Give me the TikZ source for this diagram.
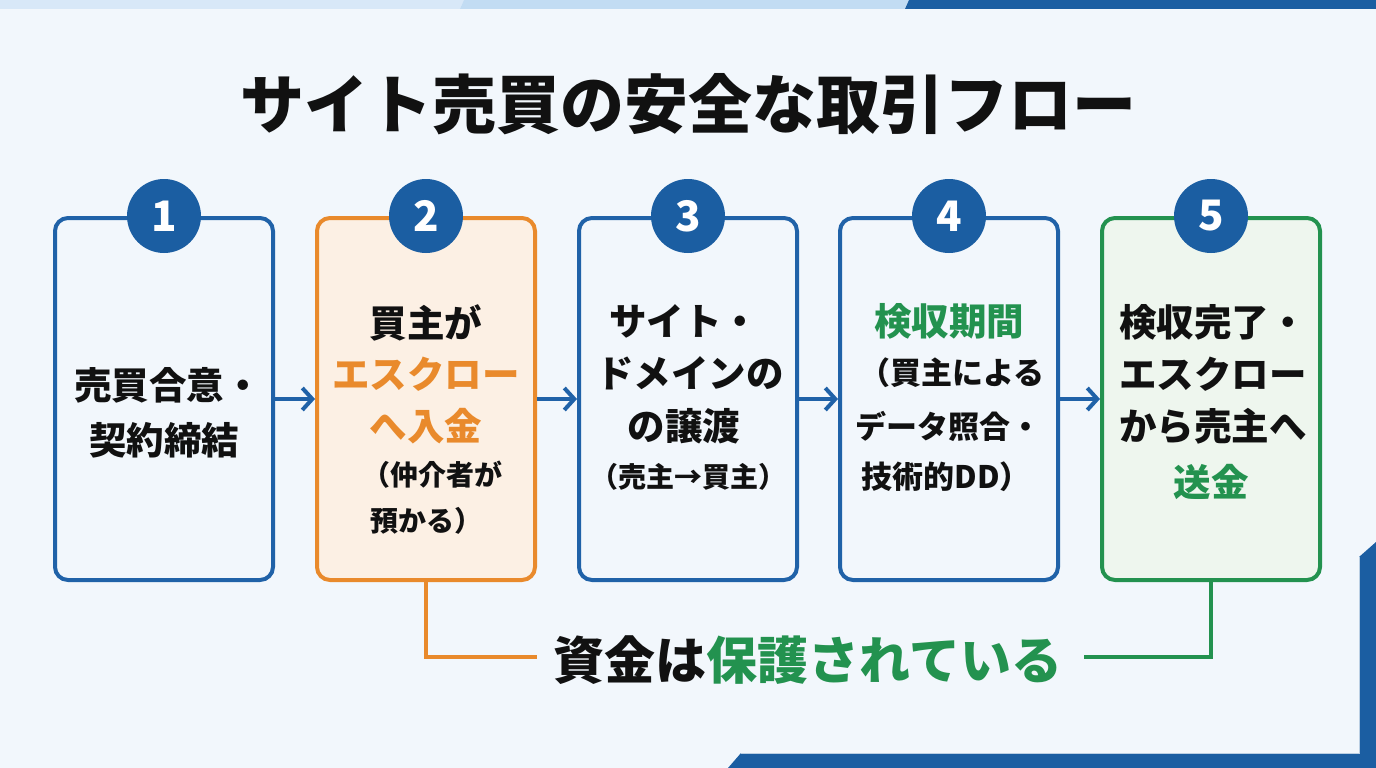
\documentclass[tikz,border=0pt]{standalone}
\usepackage{fontspec}
\setmainfont{Noto Sans CJK JP}
\newfontfamily\heavyfont{Noto Sans CJK JP Black}
\usetikzlibrary{arrows.meta}
\definecolor{bgcol}{HTML}{F2F7FC}
\definecolor{bandA}{HTML}{D8E8F8}
\definecolor{bandB}{HTML}{C2DCF3}
\definecolor{navy}{HTML}{1B5EA2}
\definecolor{boxblue}{HTML}{2062A8}
\definecolor{orng}{HTML}{E98A2C}
\definecolor{orngfill}{HTML}{FCF0E4}
\definecolor{grn}{HTML}{23924F}
\definecolor{grnfill}{HTML}{EEF6EE}
\definecolor{txt}{HTML}{111111}
\tikzset{
  stepbox/.style={draw=boxblue, line width=4pt, rounded corners=13pt, fill=bgcol,
    minimum width=218pt, minimum height=362pt, inner sep=0pt},
  numdisc/.style={circle, fill=navy, minimum size=74pt, inner sep=0pt, text=white,
    font=\heavyfont\fontsize{42}{42}\selectfont},
  bigline/.style={text=txt, inner sep=0pt, font=\bfseries\fontsize{37.5}{37.5}\selectfont},
  smallline/.style={text=txt, inner sep=0pt, font=\bfseries\fontsize{28}{28}\selectfont},
  midline/.style={text=txt, inner sep=0pt, font=\bfseries\fontsize{31}{31}\selectfont},
  flowarrow/.style={draw=boxblue, line width=4pt, -{Straight Barb[length=10pt,width=22pt,line width=4pt]}},
}
\begin{document}
\begin{tikzpicture}[x=1pt,y=-1pt]
\useasboundingbox (0,0) rectangle (1376,768);
\fill[bgcol] (0,0) rectangle (1376,768);
% top bands
\fill[bandA] (0,0) -- (464,0) -- (460,9) -- (0,9) -- cycle;
\fill[bandB] (464,0) -- (909,0) -- (905,9) -- (460,9) -- cycle;
\fill[navy] (909,0) -- (1376,0) -- (1376,9) -- (905,9) -- cycle;
% bottom right corner
\fill[navy] (1359,557) -- (1376,542) -- (1376,768) -- (728,768) -- (741,753) -- (1359,753) -- cycle;
\draw[white, line width=0.8pt, opacity=0.7] (1359,557) -- (1359,753) -- (741,753);

% title
\node[text=txt, inner sep=0pt, font=\heavyfont\fontsize{64}{64}\selectfont] (title) at (688,104) {サイト売買の安全な取引フロー};

% boxes
\node[stepbox] (b1) at (164,399) {};
\node[stepbox, draw=orng, fill=orngfill] (b2) at (426,399) {};
\node[stepbox] (b3) at (688,399) {};
\node[stepbox] (b4) at (949,399) {};
\node[stepbox, draw=grn, fill=grnfill] (b5) at (1211,399) {};

% number discs
\node[numdisc] (n1) at (b1.north) {1};
\node[numdisc] (n2) at (b2.north) {2};
\node[numdisc] (n3) at (b3.north) {3};
\node[numdisc] (n4) at (b4.north) {4};
\node[numdisc] (n5) at (b5.north) {5};

% arrows
\draw[flowarrow] (b1.east) -- (b2.west);
\draw[flowarrow] (b2.east) -- (b3.west);
\draw[flowarrow] (b3.east) -- (b4.west);
\draw[flowarrow] (b4.east) -- (b5.west);

% box 1 text
\node[bigline] (t11) at (168,385) {売買合意・};
\node[bigline] (t12) at (164,440) {契約締結};
% box 2 text
\node[bigline] (t21) at (426,323) {買主が};
\node[bigline, text=orng] (t22) at (426,374) {エスクロー};
\node[bigline, text=orng] (t23) at (426,426) {へ入金};
\node[smallline] (t24) at (432,475) {（仲介者が};
\node[smallline] (t25) at (426,521) {預かる）};
% box 3 text
\node[bigline] (t31) at (684,321) {サイト・};
\node[bigline] (t32) at (690,373) {ドメインの};
\node[bigline] (t33) at (684,426) {の譲渡};
\node[smallline] (t34) at (688,477) {（売主→買主）};
% box 4 text
\node[bigline, text=grn] (t41) at (949,321) {検収期間};
\node[midline] (t42) at (952,373) {（買主による};
\node[midline] (t43) at (948,426) {データ照合・};
\node[midline] (t44) at (946,477) {技術的DD）};
% box 5 text
\node[bigline] (t51) at (1213,322) {検収完了・};
\node[bigline] (t52) at (1213,374) {エスクロー};
\node[bigline] (t53) at (1213,426) {から売主へ};
\node[bigline, text=grn] (t54) at (1211,482) {送金};

% bottom connector
\node[inner sep=0pt, font=\bfseries\fontsize{51}{51}\selectfont] (safe) at (808,660)
  {\textcolor{txt}{資金は}\textcolor{grn}{保護されている}};
\coordinate (oend) at (537,657);
\coordinate (gend) at (1084,657);
\draw[orng, line width=4pt] (b2.south) |- (oend);
\draw[grn, line width=4pt] (b5.south) |- (gend);
\end{tikzpicture}
\end{document}
